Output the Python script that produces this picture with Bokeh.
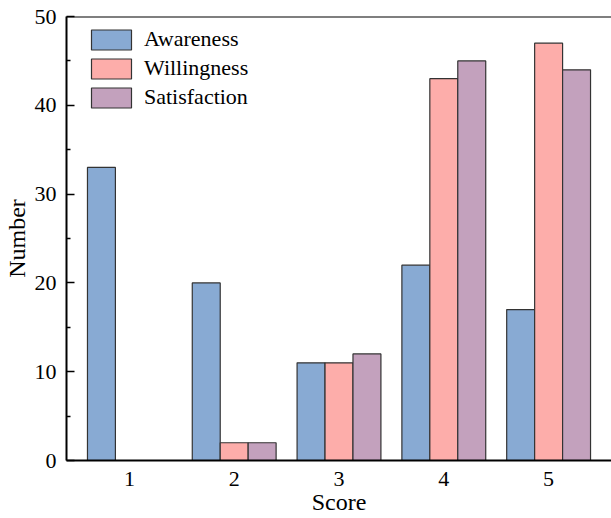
from bokeh.plotting import figure
from bokeh.models import ColumnDataSource, FixedTicker, Span, Legend, LegendItem, Range1d
from bokeh.transform import dodge
from bokeh.embed import file_html
from bokeh.resources import INLINE

# Survey results: number of respondents per score
scores = [1, 2, 3, 4, 5]
awareness = [33, 20, 11, 22, 17]
willingness = [0, 2, 11, 43, 47]
satisfaction = [0, 2, 12, 45, 44]

series_names = ["Awareness", "Willingness", "Satisfaction"]
colors = ["#88AAD3", "#FDADAA", "#C3A1BD"]

FONT = "Liberation Serif"
bar_w = 0.8 / 3

source = ColumnDataSource(data=dict(
    score=scores,
    Awareness=awareness,
    Willingness=willingness,
    Satisfaction=satisfaction,
))

p = figure(
    width=611, height=518,
    x_range=Range1d(0.4, 5.6), y_range=Range1d(0, 50),
    output_backend="svg", toolbar_location=None,
    min_border_left=63, min_border_right=0,
    min_border_top=16, min_border_bottom=58,
)

renderers = []
for i, (name, col) in enumerate(zip(series_names, colors)):
    offset = (i - 1) * bar_w
    r = p.vbar(
        x=dodge("score", offset, range=p.x_range), top=name, width=bar_w,
        source=source, fill_color=col, line_color="#333333", line_width=1.2,
    )
    renderers.append(r)

# frame: left/bottom axes plus a top rule
p.outline_line_color = None
p.xgrid.visible = False
p.ygrid.visible = False
p.add_layout(Span(location=50, dimension="width", line_color="black", line_width=2))

xa = p.xaxis[0]
xa.ticker = FixedTicker(ticks=scores)
xa.axis_label = "Score"
xa.major_tick_in = 0
xa.major_tick_out = 0
xa.minor_tick_in = 0
xa.minor_tick_out = 0
xa.axis_line_width = 2
xa.major_label_standoff = 11
xa.axis_label_standoff = 0

ya = p.yaxis[0]
ya.ticker = FixedTicker(ticks=[0, 10, 20, 30, 40, 50],
                        minor_ticks=[5, 15, 25, 35, 45])
ya.axis_label = "Number"
ya.major_tick_in = 8
ya.major_tick_out = 0
ya.minor_tick_in = 4
ya.minor_tick_out = 0
ya.axis_line_width = 2
ya.major_tick_line_width = 1.5
ya.minor_tick_line_width = 1.5
ya.major_label_standoff = 10
ya.axis_label_standoff = 2

for ax in (xa, ya):
    ax.axis_line_color = "black"
    ax.major_tick_line_color = "black"
    ax.minor_tick_line_color = "black"
    ax.major_label_text_font = FONT
    ax.major_label_text_font_size = "22px"
    ax.major_label_text_color = "black"
    ax.axis_label_text_font = FONT
    ax.axis_label_text_font_size = "24px"
    ax.axis_label_text_font_style = "normal"
    ax.axis_label_text_color = "black"

# legend in the upper-left corner of the frame
LEG_X, LEG_TOP = 20, 29          # swatch offset from frame left / from canvas top
SW_W, SW_H, GAP = 50, 25, 3
FRAME_BOTTOM = 460
n_items = len(series_names)
leg_h = n_items * SW_H + (n_items - 1) * GAP

legend = Legend(
    items=[LegendItem(label=n, renderers=[r]) for n, r in zip(series_names, renderers)],
    location=(LEG_X, FRAME_BOTTOM - LEG_TOP - leg_h),
    glyph_width=SW_W, glyph_height=SW_H, label_height=SW_H,
    spacing=GAP, padding=0, margin=0, label_standoff=8,
    background_fill_alpha=0, border_line_color=None,
)
legend.label_text_font = FONT
legend.label_text_font_size = "22px"
legend.label_text_color = "black"
p.add_layout(legend)

open("out.html", "w").write(file_html(p, INLINE))
